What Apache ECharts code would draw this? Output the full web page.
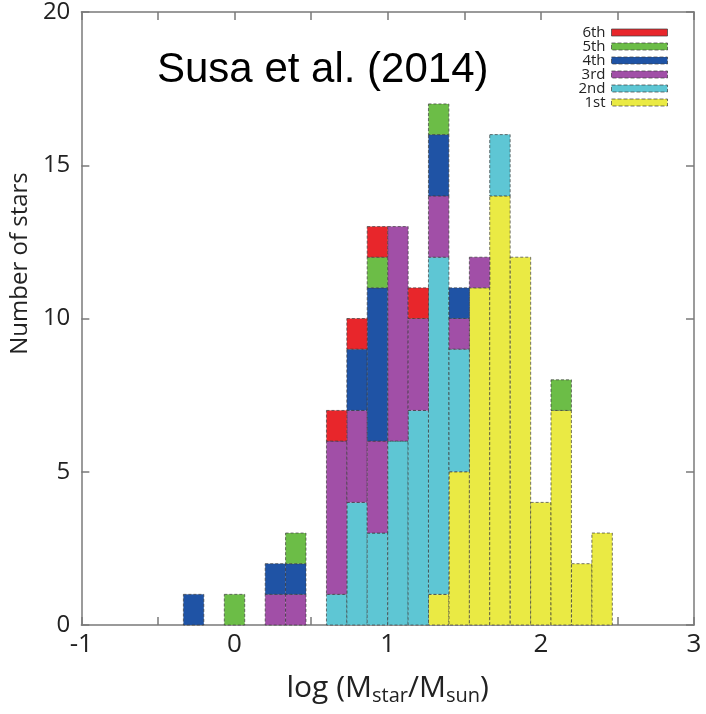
<!DOCTYPE html>
<html>
<head>
<meta charset="utf-8">
<script src="https://cdn.jsdelivr.net/npm/echarts@6/dist/echarts.min.js"></script>
<style>
  html, body { margin: 0; padding: 0; background: #fff; }
  #chart { width: 706px; height: 714px; }
</style>
</head>
<body>
<div id="chart"></div>
<script>
// bin centres in log(M/Msun), bins are 0.1333 wide
const binCenters = [-0.267, -0.133, 0, 0.133, 0.267, 0.4, 0.533, 0.667, 0.8, 0.933, 1.067,
                    1.2, 1.333, 1.467, 1.6, 1.733, 1.867, 2.0, 2.133, 2.267, 2.4];
const binWidth = 0.1333;

// star counts per bin, stacked bottom (1st) to top (6th)
const first  = [0, 0, 0, 0, 0, 0, 0, 0, 0, 0, 0, 0, 1, 5, 11, 14, 12, 4, 7, 2, 3];
const second = [0, 0, 0, 0, 0, 0, 0, 1, 4, 3, 6, 7, 11, 4, 0, 2, 0, 0, 0, 0, 0];
const third  = [0, 0, 0, 0, 1, 1, 0, 5, 3, 3, 7, 3, 2, 1, 1, 0, 0, 0, 0, 0, 0];
const fourth = [1, 0, 0, 0, 1, 1, 0, 0, 2, 5, 0, 0, 2, 1, 0, 0, 0, 0, 0, 0, 0];
const fifth  = [0, 0, 1, 0, 0, 1, 0, 0, 0, 1, 0, 0, 1, 0, 0, 0, 0, 0, 1, 0, 0];
const sixth  = [0, 0, 0, 0, 0, 0, 0, 1, 1, 1, 0, 1, 0, 0, 0, 0, 0, 0, 0, 0, 0];

const seriesNames = ['1st', '2nd', '3rd', '4th', '5th', '6th'];
const seriesValues = [first, second, third, fourth, fifth, sixth];
const colors = ['#eaea44', '#5ec6d4', '#a14fa7', '#1f53a5', '#6cbd47', '#e8262b'];

const xTicks = [-1, 0, 1, 2, 3];
const yTicks = [0, 5, 10, 15, 20];

const chart = echarts.init(document.getElementById('chart'));

// running base for the stack
const base = binCenters.map(() => 0);

const renderBar = (params, api) => {
  const x = api.value(0);
  const v = api.value(1);
  const b = api.value(2);
  if (!v) return;
  const p0 = api.coord([x - binWidth / 2, b + v]);
  const p1 = api.coord([x + binWidth / 2, b]);
  return {
    type: 'rect',
    shape: { x: p0[0], y: p0[1], width: p1[0] - p0[0], height: p1[1] - p0[1] },
    style: {
      fill: api.visual('color'),
      stroke: 'rgba(60,60,60,0.7)',
      lineWidth: 1,
      lineDash: [3, 2]
    }
  };
};

const series = seriesNames.map((name, i) => {
  const data = binCenters.map((c, k) => {
    const item = [c, seriesValues[i][k], base[k]];
    base[k] += seriesValues[i][k];
    return item;
  });
  return {
    name: name,
    type: 'custom',
    renderItem: renderBar,
    itemStyle: { color: colors[i] },
    encode: { x: 0, y: 1 },
    data: data,
    z: 3
  };
});

const frameLine = { show: true, onZero: false, lineStyle: { color: '#7a7a7a', width: 1.5 } };
const tickStyle = { show: true, inside: true, length: 8, lineStyle: { color: '#7a7a7a', width: 1.5 } };
const fontHum = '"Open Sans", "Noto Sans", sans-serif';

const option = {
  animation: false,
  backgroundColor: '#fff',
  title: {
    text: 'Susa et al. (2014)',
    left: 152,
    top: 44,
    textStyle: { fontFamily: '"Liberation Sans", Arial, sans-serif', fontSize: 42, fontWeight: 'normal', color: '#000' }
  },
  legend: {
    data: ['6th', '5th', '4th', '3rd', '2nd', '1st'].map(n => ({
      name: n,
      itemStyle: { borderColor: 'rgba(60,60,60,0.7)', borderWidth: 1, borderType: n === '6th' ? 'solid' : 'dashed' }
    })),
    orient: 'vertical',
    right: 33,
    top: 20,
    align: 'right',
    icon: 'rect',
    itemWidth: 56,
    itemHeight: 7,
    itemGap: -1,
    textStyle: { fontFamily: fontHum, fontSize: 15, lineHeight: 12, color: '#222', padding: [0, 1, 0, 0] }
  },
  grid: { left: 81, right: 12, top: 11, bottom: 89 },
  xAxis: [
    {
      type: 'value',
      min: -1,
      max: 3,
      interval: 0.5,
      axisLine: frameLine,
      axisTick: tickStyle,
      splitLine: { show: false },
      axisLabel: {
        margin: 7,
        fontFamily: fontHum,
        fontSize: 26,
        color: '#222',
        formatter: v => (xTicks.indexOf(v) >= 0 ? String(v) : '')
      },
      name: 'log (M{sub|star}/M{sub|sun})',
      nameLocation: 'middle',
      nameGap: 45,
      nameTextStyle: {
        fontFamily: fontHum,
        fontSize: 30,
        color: '#222',
        lineHeight: 36,
        rich: { sub: { fontFamily: fontHum, fontSize: 20, color: '#222', lineHeight: 36, verticalAlign: 'bottom' } }
      }
    },
    {
      type: 'value',
      position: 'top',
      min: -1,
      max: 3,
      interval: 0.5,
      axisLine: frameLine,
      axisTick: tickStyle,
      axisLabel: { show: false },
      splitLine: { show: false }
    }
  ],
  yAxis: [
    {
      type: 'value',
      min: 0,
      max: 20,
      interval: 5,
      axisLine: frameLine,
      axisTick: tickStyle,
      splitLine: { show: false },
      axisLabel: {
        margin: 11,
        fontFamily: fontHum,
        fontSize: 24,
        color: '#222',
        formatter: v => (yTicks.indexOf(v) >= 0 ? String(v) : '')
      },
      name: 'Number of stars',
      nameLocation: 'middle',
      nameGap: 49,
      nameTextStyle: { fontFamily: fontHum, fontSize: 24, color: '#222', padding: [0, 0, 0, 110] }
    },
    {
      type: 'value',
      position: 'right',
      min: 0,
      max: 20,
      interval: 5,
      axisLine: frameLine,
      axisTick: tickStyle,
      axisLabel: { show: false },
      splitLine: { show: false }
    }
  ],
  series: series
};

chart.setOption(option);
</script>
</body>
</html>
